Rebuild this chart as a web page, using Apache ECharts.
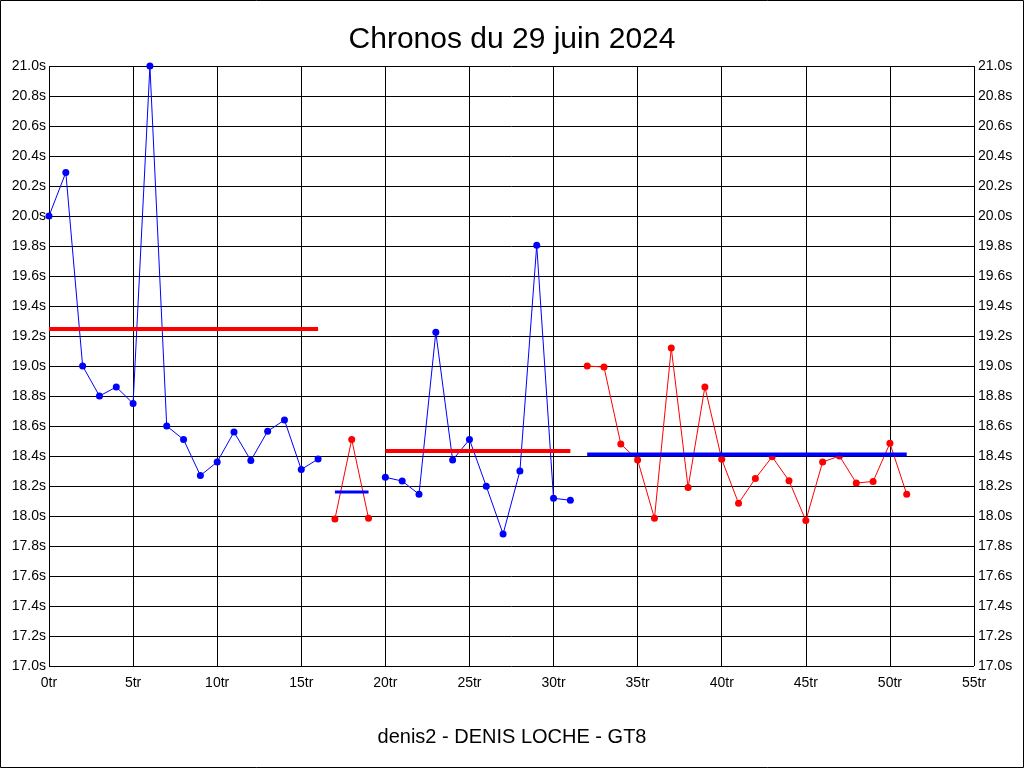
<!DOCTYPE html>
<html>
<head>
<meta charset="utf-8">
<script src="https://cdn.jsdelivr.net/npm/echarts@6/dist/echarts.min.js"></script>
<style>
html,body{margin:0;padding:0;background:#fff;}
#chart{width:1024px;height:768px;}
</style>
</head>
<body>
<div id="chart"></div>
<script>
// Segment 1 (blue)
const laps1 = [0,1,2,3,4,5,6,7,8,9,10,11,12,13,14,15,16];
const times1 = [20.00,20.29,19.00,18.80,18.86,18.75,21.00,18.60,18.51,18.27,18.36,18.56,18.37,18.565,18.64,18.31,18.38];
// Segment 2 (red)
const laps2 = [17,18,19];
const times2 = [17.98,18.51,17.985];
// Segment 3 (blue)
const laps3 = [20,21,22,23,24,25,26,27,28,29,30,31];
const times3 = [18.258,18.233,18.145,19.225,18.373,18.51,18.198,17.88,18.30,19.805,18.118,18.105];
// Segment 4 (red)
const laps4 = [32,33,34,35,36,37,38,39,40,41,42,43,44,45,46,47,48,49,50,51];
const times4 = [19.00,18.993,18.48,18.373,17.985,19.12,18.19,18.86,18.378,18.085,18.25,18.395,18.235,17.97,18.36,18.40,18.22,18.23,18.485,18.145];
// Mean lines: [startLap, endLap], value
const mean1Laps = [0,16];  const mean1 = 19.247;
const mean2Laps = [17,19]; const mean2 = 18.16;
const mean3Laps = [20,31]; const mean3 = 18.433;
const mean4Laps = [32,51]; const mean4 = 18.41;

const titleText = 'Chronos du 29 juin 2024';
const footerText = 'denis2 - DENIS LOCHE - GT8';

const BLUE = '#0000ff', RED = '#ff0000';
const FONT = '"Liberation Sans", Arial, sans-serif';

function pairs(xs, ys){ return xs.map((x,i)=>[x, ys[i]]); }
function meanPairs(xs, v){ return xs.map(x=>[x, v]); }

function dataSeries(xs, ys, color){
  return {
    type:'line', data:pairs(xs, ys), yAxisIndex:0,
    symbol:'circle', symbolSize:7, showSymbol:true,
    lineStyle:{color:color, width:1},
    itemStyle:{color:color},
    animation:false, silent:true, z:2
  };
}
function meanSeries(xs, v, color, w){
  return {
    type:'line', data:meanPairs(xs, v), yAxisIndex:0,
    symbol:'none',
    lineStyle:{color:color, width:w},
    animation:false, silent:true, z:3
  };
}

const yAxisBase = {
  type:'value', min:17, max:21, interval:0.2,
  axisLine:{show:false}, axisTick:{show:false},
  splitLine:{show:true, lineStyle:{color:'#000', width:1}},
  axisLabel:{color:'#000', fontSize:14, fontFamily:FONT,
    formatter:v=>v.toFixed(1)+'s'}
};

const chart = echarts.init(document.getElementById('chart'), null, {renderer:'canvas'});
chart.setOption({
  animation:false,
  backgroundColor:'#fff',
  title:[
    {text:titleText, left:'center', top:20,
     textStyle:{fontSize:30, fontWeight:'normal', color:'#000', fontFamily:FONT}},
    {text:footerText, left:'center', top:722,
     textStyle:{fontSize:20, fontWeight:'normal', color:'#000', fontFamily:FONT}}
  ],
  grid:{left:49, right:50, top:66, bottom:102, containLabel:false},
  xAxis:{
    type:'value', min:0, max:55, interval:5,
    axisLine:{show:false}, axisTick:{show:false},
    splitLine:{show:true, lineStyle:{color:'#000', width:1}},
    axisLabel:{color:'#000', fontSize:14, fontFamily:FONT, margin:10,
      formatter:v=>v+'tr'}
  },
  yAxis:[
    Object.assign({}, yAxisBase, {position:'left', axisLabel:Object.assign({}, yAxisBase.axisLabel, {margin:3})}),
    Object.assign({}, yAxisBase, {position:'right', splitLine:{show:false}, axisLabel:Object.assign({}, yAxisBase.axisLabel, {margin:4})})
  ],
  graphic:[
    {type:'rect', shape:{x:0.5, y:0.5, width:1023, height:767},
     style:{fill:'none', stroke:'#000', lineWidth:1}, silent:true, z:100}
  ],
  series:[
    dataSeries(laps1, times1, BLUE),
    dataSeries(laps2, times2, RED),
    dataSeries(laps3, times3, BLUE),
    dataSeries(laps4, times4, RED),
    meanSeries(mean1Laps, mean1, RED, 4),
    meanSeries(mean2Laps, mean2, BLUE, 3),
    meanSeries(mean3Laps, mean3, RED, 4),
    meanSeries(mean4Laps, mean4, BLUE, 4)
  ]
});
</script>
</body>
</html>
